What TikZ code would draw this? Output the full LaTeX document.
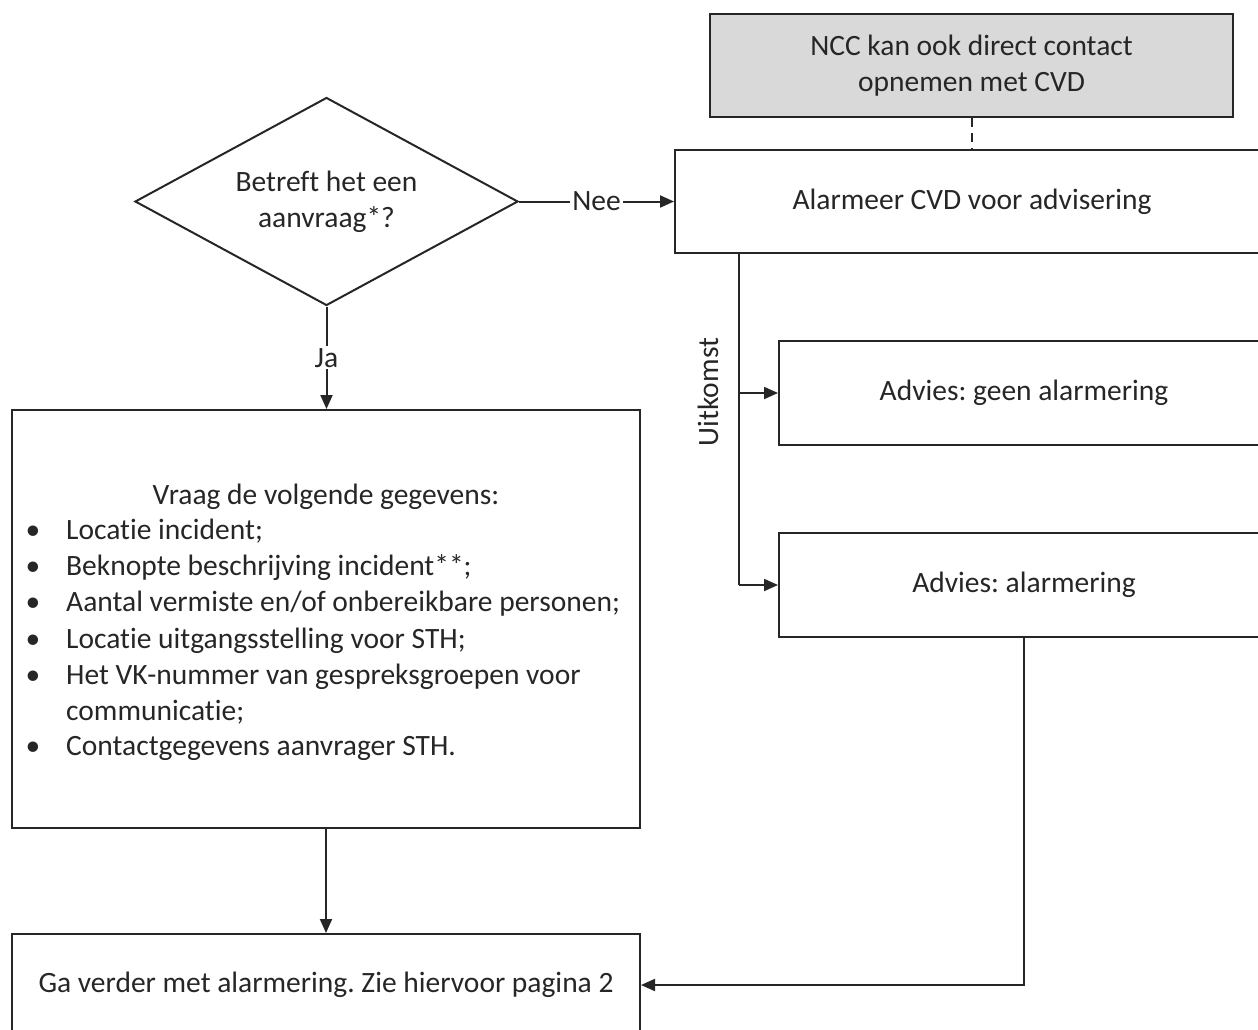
\documentclass[tikz,border=0pt]{standalone}
\usepackage{fontspec}
\setmainfont{Carlito}[Ligatures=NoCommon]
\usetikzlibrary{arrows.meta,shapes.geometric}
\definecolor{boxgray}{RGB}{217,217,217}
\definecolor{ink}{RGB}{38,38,38}
\frenchspacing
\begin{document}
\begin{tikzpicture}[x=1pt,y=-1pt,
  font=\fontsize{29.5}{36}\selectfont, text=ink,
  box/.style={draw=ink, line width=2pt, rectangle, inner sep=0pt, align=center},
  graybox/.style={box, fill=boxgray},
  decision/.style={draw=ink, line width=2pt, diamond, inner sep=0pt, aspect=1.84, align=center},
  conn/.style={draw=ink, line width=2pt},
  arr/.style={conn, -{Triangle[length=14pt,width=12pt]}},
  lbl/.style={fill=white, inner sep=2pt},
  txt/.style={anchor=base west, inner sep=0pt},
  bul/.style={anchor=base, inner sep=0pt}]
\useasboundingbox (0,0) rectangle (1258,1029);
% nodes
\node[graybox, minimum width=523pt, minimum height=103pt] (ncc) at (971.5,65.5)
  {NCC kan ook direct contact\\opnemen met CVD};
\node[box, minimum width=594pt, minimum height=103pt] (alarm) at (972,201.5)
  {Alarmeer CVD voor advisering};
\node[decision, minimum width=383pt, minimum height=208pt] (dia) at (326.5,201.5)
  {Betreft het een\\aanvraag*?};
\node[box, minimum width=490pt, minimum height=104pt] (adv1) at (1024,393)
  {Advies: geen alarmering};
\node[box, minimum width=490pt, minimum height=104pt] (adv2) at (1024,585)
  {Advies: alarmering};
\node[box, minimum width=628pt, minimum height=418pt] (vraag) at (326,619) {};
\node[box, minimum width=628pt, minimum height=102pt] (ga) at (326,985)
  {Ga verder met alarmering. Zie hiervoor pagina 2};
% text inside vraag
\node[anchor=base, inner sep=0pt] (kop) at (326,504) {Vraag de volgende gegevens:};
\node[txt] (t1) at (66,539) {Locatie incident;};
\node[txt] (t2) at (66,575) {Beknopte beschrijving incident**;};
\node[txt] (t3) at (66,611) {Aantal vermiste en/of onbereikbare personen;};
\node[txt] (t4) at (66,648) {Locatie uitgangsstelling voor STH;};
\node[txt] (t5) at (66,684) {Het VK-nummer van gespreksgroepen voor};
\node[txt] (t6) at (66,720) {communicatie;};
\node[txt] (t7) at (66,755) {Contactgegevens aanvrager STH.};
\foreach \y/\n in {539/1,575/2,611/3,648/4,684/5,755/7}
  \node[bul] (b\n) at (33,\y) {\textbullet};
% connectors
\draw[conn, dash pattern=on 9pt off 6pt] (ncc.south) -- (ncc.south |- alarm.north);
\draw[arr] (dia.east) -- node[lbl] (nee) {Nee} (alarm.west);
\draw[arr] (dia.south) -- node[lbl] (ja) {Ja} (dia.south |- vraag.north);
\coordinate (u0) at ([xshift=65pt]alarm.south west);
\draw[conn] (u0) -- (u0 |- adv2.west);
\draw[arr] (u0 |- adv1.west) -- (adv1.west);
\draw[arr] (u0 |- adv2.west) -- (adv2.west);
\node[rotate=90, inner sep=0pt] (uit) at (708,392) {Uitkomst};
\draw[arr] (vraag.south) -- (ga.north);
\draw[arr] (adv2.south) |- (ga.east);
\end{tikzpicture}
\end{document}
